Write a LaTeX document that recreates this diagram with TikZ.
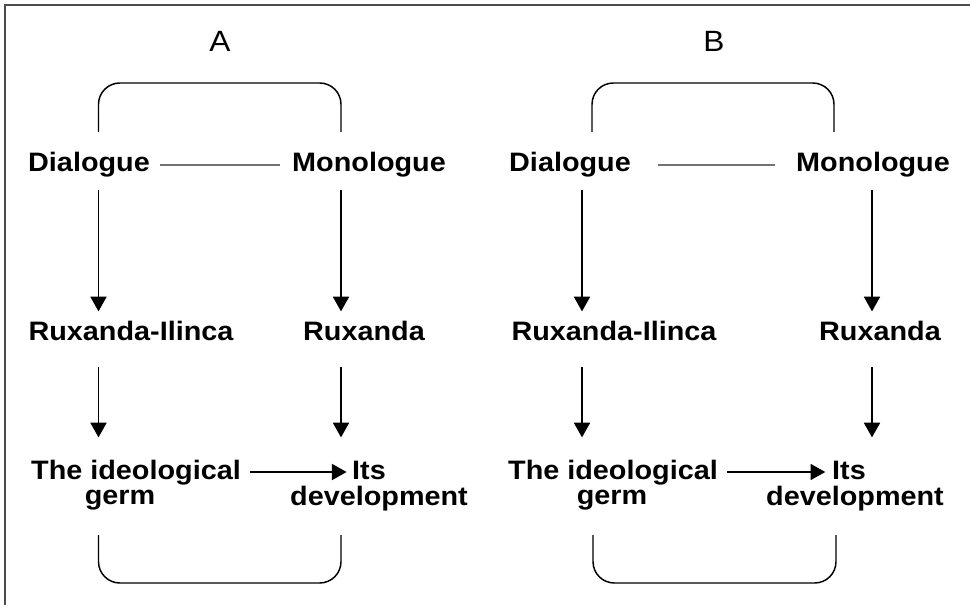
\documentclass[tikz,border=0pt]{standalone}
\usepackage{fontspec}
\setmainfont{Liberation Sans}[FakeStretch=1.08]
\usetikzlibrary{arrows.meta}

\tikzset{
  txt/.style={font=\fontsize{20}{24}\selectfont\bfseries, inner sep=0pt, anchor=base},
  word/.style={txt, text height=15pt, text depth=4.5pt},
  title/.style={font=\fontsize{22}{26}\selectfont, inner sep=0pt, anchor=base},
  arr/.style={-{Triangle[length=11pt,width=12pt]}, line width=1.2pt},
  brace/.style={line width=1.1pt, rounded corners=16pt},
  link/.style={draw=black!55, line width=1.2pt}
}

\begin{document}
\begin{tikzpicture}[x=0.75pt,y=-0.75pt]
   \useasboundingbox (0,0) rectangle (970,605);
   \draw[line width=1.5pt, black!70] (970,5) -- (5,5) -- (5,605);

   % A
   \node[title] (tA) at (220,52) {A};
   \node[word] (dA) at (89,172) {Dialogue};
   \node[word] (mA) at (369,172) {Monologue};
   \node[word] (rA) at (131,341) {Ruxanda-Ilinca};
   \node[word] (xA) at (364,341) {Ruxanda};
   \node[word] (iA) at (136,479) {The ideological};
   \node[txt] (gA) at (120,504) {germ};
   \node[word] (jA) at (369,479) {Its};
   \node[txt] (vA) at (379,505) {development};
   \coordinate (colA1) at (98.5,0);
   \coordinate (colA2) at (341,0);

   \draw[brace] (98.5,132) |- (220,83) -| (341,132);
   \draw[brace] (98.5,535) |- (220,583) -| (341,535);
   \draw[link, shorten <=7.5pt, shorten >=9pt] (dA) -- (mA);
   \path[arr, shorten <=9pt, shorten >=7pt]
    (dA.south -| colA1) edge (rA.north -| colA1)
    (mA.south -| colA2) edge (xA.north -| colA2);
   \path[arr, shorten <=15pt, shorten >=16pt]
    (rA.south -| colA1) edge (iA.north -| colA1)
    (xA.south -| colA2) edge (jA.north -| colA2);
   \draw[arr, shorten <=7pt, shorten >=4pt] (iA) -- (jA);

   % B
   \node[title] (tB) at (714,52) {B};
   \node[word] (dB) at (570,172) {Dialogue};
   \node[word] (mB) at (873,172) {Monologue};
   \node[word] (rB) at (614,341) {Ruxanda-Ilinca};
   \node[word] (xB) at (880,341) {Ruxanda};
   \node[word] (iB) at (613,479) {The ideological};
   \node[txt] (gB) at (612,504) {germ};
   \node[word] (jB) at (849,479) {Its};
   \node[txt] (vB) at (855,505) {development};
   \coordinate (colB1) at (582,0);
   \coordinate (colB2) at (872,0);

   \draw[brace] (592,132) |- (713,83) -| (834,132);
   \draw[brace] (593,535) |- (714,583) -| (836,535);
   \draw[link, shorten <=20pt, shorten >=16pt] (dB) -- (mB);
   \path[arr, shorten <=9pt, shorten >=7pt]
    (dB.south -| colB1) edge (rB.north -| colB1)
    (mB.south -| colB2) edge (xB.north -| colB2);
   \path[arr, shorten <=15pt, shorten >=16pt]
    (rB.south -| colB1) edge (iB.north -| colB1)
    (xB.south -| colB2) edge (jB.north -| colB2);
   \draw[arr, shorten <=7pt, shorten >=5pt] (iB) -- (jB);
\end{tikzpicture}
\end{document}
